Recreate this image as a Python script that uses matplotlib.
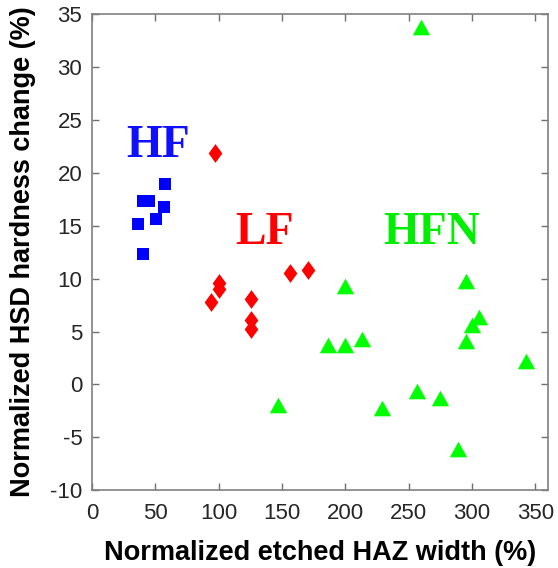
import numpy as np
import matplotlib
matplotlib.use("Agg")
import matplotlib.pyplot as plt

# HF group (blue squares)
hf_x = [57.5, 40.4, 45.1, 56.7, 50.4, 36.5, 40.4]
hf_y = [18.9, 17.3, 17.35, 16.8, 15.6, 15.2, 12.3]

# LF group (red diamonds)
lf_x = [97.4, 156.4, 170.3, 100.3, 100.3, 93.7, 125.2, 125.2, 125.2]
lf_y = [21.85, 10.5, 10.85, 9.6, 9.03, 7.77, 8.08, 6.07, 5.25]

# HFN group (green triangles)
hfn_x = [200, 186.6, 200, 213.1, 147, 259.8, 295.5, 305.5, 299.7, 295.5,
         343.0, 256.9, 274.5, 228.8, 289.0]
hfn_y = [9.34, 3.77, 3.77, 4.25, -1.9, 33.8, 9.75, 6.4, 5.66, 4.1,
         2.2, -0.63, -1.26, -2.2, -6.1]

x_ticks = list(range(0, 351, 50))
y_ticks = list(range(-10, 36, 5))

plt.rcParams['font.family'] = ['Liberation Sans', 'DejaVu Sans']
plt.rcParams['axes.unicode_minus'] = False

diamond = [(-0.73, 0), (0, 1), (0.73, 0), (0, -1), (-0.73, 0)]
triangle = [(0, 0.9), (-1, -0.9), (1, -0.9), (0, 0.9)]

fig = plt.figure(figsize=(5.58, 5.68), dpi=100)
ax = fig.add_axes([0.165, 0.137, 0.817, 0.838])

ax.plot(hf_x, hf_y, linestyle='none', marker='s', markersize=8.5,
        color='#0000ff', markeredgewidth=0)
ax.plot(lf_x, lf_y, linestyle='none', marker=diamond, markersize=13.5,
        color='#ff0000', markeredgewidth=0)
ax.plot(hfn_x, hfn_y, linestyle='none', marker=triangle, markersize=12.5,
        color='#00ff00', markeredgewidth=0)

ax.text(52, 22.5, 'HF', color='#1010ff', fontsize=33, fontweight='bold',
        family='Liberation Serif', ha='center', va='center')
ax.text(136, 14.3, 'LF', color='#ff0000', fontsize=33, fontweight='bold',
        family='Liberation Serif', ha='center', va='center')
ax.text(268.5, 14.3, 'HFN', color='#00ee00', fontsize=33, fontweight='bold',
        family='Liberation Serif', ha='center', va='center')

ax.set_xlim(0, 360)
ax.set_ylim(-10, 35)
ax.set_xticks(x_ticks)
ax.set_yticks(y_ticks)
ax.tick_params(direction='in', length=5, width=1, color='#707070',
               labelsize=16, labelcolor='#262626', top=True, right=True)
ax.tick_params(axis='x', pad=9)
ax.tick_params(axis='y', pad=7)
for s in ax.spines.values():
    s.set_color('#808080')
    s.set_linewidth(1.2)

fig.text(0.573, 0.027, 'Normalized etched HAZ width (%)', fontsize=19.5,
         fontweight='bold', ha='center', va='center')
fig.text(0.041, 0.557, 'Normalized HSD hardness change (%)', fontsize=19.5,
         fontweight='bold', ha='center', va='center', rotation=90)

fig.savefig('out.png', dpi=100)
